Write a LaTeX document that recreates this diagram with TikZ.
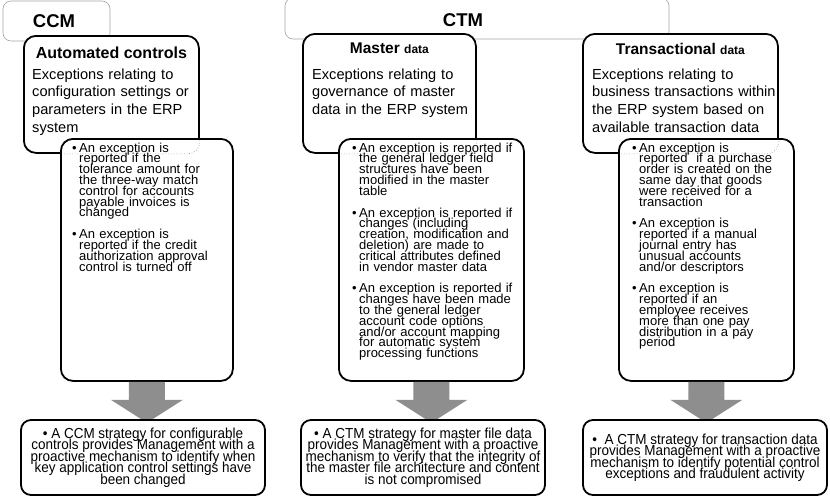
\documentclass[tikz,border=0pt]{standalone}
\usepackage{fontspec}
\setmainfont{Liberation Sans}
\newfontfamily\narrowfont{Liberation Sans}[FakeStretch=0.93]
\usetikzlibrary{positioning}
\definecolor{groupgray}{RGB}{165,165,165}
\definecolor{arrowgray}{RGB}{142,142,142}
% fonts with tight lines
\newcommand{\bulfont}{\fontsize{13}{10.8}\selectfont\lineskiplimit=-20pt\relax}
\newcommand{\resfont}{\narrowfont\fontsize{14.5}{11.5}\selectfont\lineskiplimit=-20pt\relax}
% one bullet with hanging lines
\newcommand{\bitem}[1]{\par\hangindent=7pt\hangafter=1\noindent\hbox to 7pt{\textbullet\hss}#1\par}

\begin{document}
\begin{tikzpicture}[x=1pt,y=-1pt,
  group/.style={draw=groupgray,fill=white,rounded corners=8pt,line width=0.6pt,inner sep=0pt},
  hdrbox/.style={draw,fill=white,rounded corners=12pt,line width=1.8pt,inner sep=0pt,anchor=north west},
  grouptext/.style={font=\fontsize{18.5}{22}\selectfont\bfseries,inner sep=0pt},
  titletext/.style={font=\fontsize{15.5}{19}\selectfont\bfseries,inner sep=0pt,anchor=north},
  desctext/.style={font=\fontsize{14.6}{17.6}\selectfont,inner sep=0pt,anchor=north west,text width=190pt,align=left},
  bultext/.style={font=\bulfont,inner sep=0pt,anchor=north west,text width=175pt},
  resultbox/.style={draw,fill=white,rounded corners=10pt,line width=1.8pt,inner sep=3pt,
    minimum width=244pt,minimum height=75pt,align=center,font=\resfont}]
  \useasboundingbox (0,0) rectangle (830,498);

  % grupele CCM / CTM
  \draw[group] (3,1) rectangle (110,41);
  \draw[group] (285,-2) rectangle (669,39);
  \node[grouptext] (ccm) at (54,21) {CCM};
  \node[grouptext] (ctm) at (463,20) {CTM};

  % casetele de titlu
  \node[hdrbox,minimum width=175pt,minimum height=117pt] (hdrA) at (23,35) {};
  \node[hdrbox,minimum width=173pt,minimum height=119pt] (hdrB) at (302,33) {};
  \node[hdrbox,minimum width=195pt,minimum height=119pt] (hdrC) at (582,33) {};

  \node[titletext,font=\fontsize{16}{19}\selectfont\bfseries,below=12pt of hdrA.north] (titA) {Automated controls};
  \node[titletext,below=10pt of hdrB.north] (titB) {Master {\fontsize{12}{14}\selectfont data}};
  \node[titletext,below=10pt of hdrC.north] (titC) {Transactional {\fontsize{12}{14}\selectfont data}};

  \node[desctext] (descA) at (32,68.5) {Exceptions relating to\\configuration settings or\\parameters in the ERP\\system};
  \node[desctext] (descB) at (312,68.5) {Exceptions relating to\\governance of master\\data in the ERP system};
  \node[desctext] (descC) at (592,68.5) {Exceptions relating to\\business transactions within\\the ERP system based on\\available transaction data};

  % casetele cu excepții
  \node[hdrbox,minimum width=172pt,minimum height=242pt] (bulA) at (60,138) {};
  \node[hdrbox,minimum width=185pt,minimum height=242pt] (bulB) at (338,138) {};
  \node[hdrbox,minimum width=175pt,minimum height=242pt] (bulC) at (618,138) {};

  % marginea ascunsă a titlului
  \foreach \c in {A,B,C} {
    \begin{scope}
      \clip[rounded corners=12pt] (bul\c.north west) rectangle (bul\c.south east);
      \draw[gray,dotted,line width=0.6pt,rounded corners=12pt] (hdr\c.north west) rectangle (hdr\c.south east);
    \end{scope}
  }

  \node[bultext] (listA) at (72,141) {%
    \bitem{An exception is\newline reported if the\newline tolerance amount for\newline the three-way match\newline control for accounts\newline payable invoices is\newline changed}\vspace{11pt}
    \bitem{An exception is\newline reported if the credit\newline authorization approval\newline control is turned off}};
  \node[bultext] (listB) at (352,141) {%
    \bitem{An exception is reported if\newline the general ledger field\newline structures have been\newline modified in the master\newline table}\vspace{11pt}
    \bitem{An exception is reported if\newline changes (including\newline creation, modification and\newline deletion) are made to\newline critical attributes defined\newline in vendor master data}\vspace{11pt}
    \bitem{An exception is reported if\newline changes have been made\newline to the general ledger\newline account code options\newline and/or account mapping\newline for automatic system\newline processing functions}};
  \node[bultext] (listC) at (632,141) {%
    \bitem{An exception is\newline reported\ \ if a purchase\newline order is created on the\newline same day that goods\newline were received for a\newline transaction}\vspace{11pt}
    \bitem{An exception is\newline reported if a manual\newline journal entry has\newline unusual accounts\newline and/or descriptors}\vspace{11pt}
    \bitem{An exception is\newline reported if an\newline employee receives\newline more than one pay\newline distribution in a pay\newline period}};

  % săgețile
  \foreach \c in {A,B,C}
    \fill[arrowgray] ([xshift=-18pt]bul\c.south) -- ([xshift=18pt]bul\c.south)
      -- ([xshift=18pt,yshift=-18pt]bul\c.south) -- ([xshift=36pt,yshift=-18pt]bul\c.south)
      -- ([yshift=-41pt]bul\c.south) -- ([xshift=-36pt,yshift=-18pt]bul\c.south)
      -- ([xshift=-18pt,yshift=-18pt]bul\c.south) -- cycle;

  % strategiile
  \node[resultbox] (resA) at (143,457.5) {\textbullet\ A CCM strategy for configurable\\controls provides Management with a\\proactive mechanism to identify when\\key application control settings have\\been changed};
  \node[resultbox] (resB) at (423,457.5) {\textbullet\ A CTM strategy for master file data\\provides Management with a proactive\\mechanism to verify that the integrity of\\the master file architecture and content\\is not compromised};
  \node[resultbox] (resC) at (705,457.5) {\textbullet\ \ A CTM strategy for transaction data\\provides Management with a proactive\\mechanism to identify potential control\\exceptions and fraudulent activity};
\end{tikzpicture}
\end{document}
